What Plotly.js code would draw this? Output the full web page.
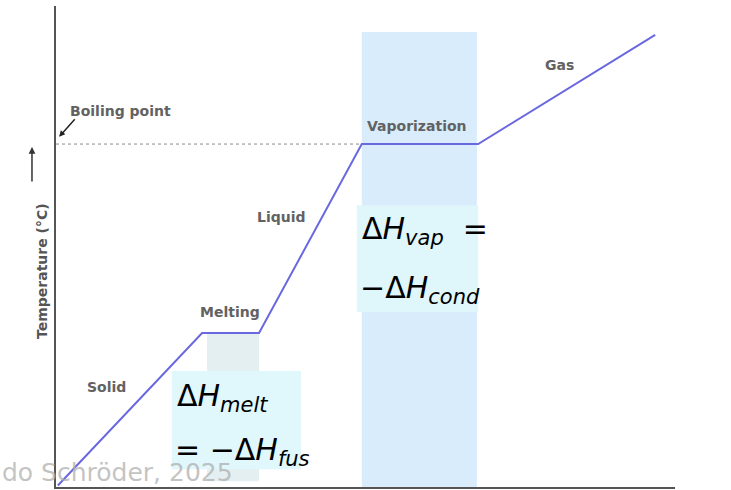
<!DOCTYPE html>
<html>
<head>
<meta charset="utf-8">
<script src="https://cdn.plot.ly/plotly-3.0.1.min.js"></script>
<style>html,body{margin:0;padding:0;background:#fff;}#chart{width:731px;height:490px;}</style>
</head>
<body>
<div id="chart"></div>
<script>
// Heating curve: heat added (arbitrary units) vs temperature (arbitrary units)
const heat = [0.3, 23.6, 32.8, 49.4, 68.2, 96.8];
const temp = [0.3, 32.0, 32.0, 71.3, 71.3, 94.0];
const boilingTemp = 71.3;

const phaseLabels = ["Solid", "Melting", "Liquid", "Vaporization", "Gas"];
const phaseLabelX = [8.2, 28.1, 36.5, 58.3, 81.3];
const phaseLabelY = [20.8, 36.4, 56.1, 75.1, 87.7];

const vapBand = [49.4, 68.0, 0, 94.6];   // x0, x1, y0, y1
const meltBand = [24.4, 32.8, 1.2, 32.0];
const meltBox = [18.7, 39.6, 3.7, 24.1];
const vapBox = [48.6, 68.2, 36.4, 58.6];

const labelFont = {family: "DejaVu Sans, sans-serif", size: 14, color: "#626262", weight: 700};
const mathFont = {family: "DejaVu Sans, sans-serif", size: 30, color: "#000"};

const traces = [
  {x: [0, heat[3]], y: [boilingTemp, boilingTemp], mode: "lines",
   line: {color: "#8a8a8a", width: 1, dash: "dot"}, hoverinfo: "skip"},
  {x: heat, y: temp, mode: "lines", line: {color: "#6a68e0", width: 2}, hoverinfo: "skip"}
];

const shapes = [
  {type: "rect", xref: "x", yref: "y", x0: vapBand[0], x1: vapBand[1], y0: vapBand[2], y1: vapBand[3],
   fillcolor: "#d9ecfb", line: {width: 0}, layer: "below"},
  {type: "rect", xref: "x", yref: "y", x0: meltBand[0], x1: meltBand[1], y0: meltBand[2], y1: meltBand[3],
   fillcolor: "#e3eff1", line: {width: 0}, layer: "below"},
  {type: "rect", xref: "x", yref: "y", x0: meltBox[0], x1: meltBox[1], y0: meltBox[2], y1: meltBox[3],
   fillcolor: "#e0f7fb", line: {width: 0}, layer: "above"},
  {type: "rect", xref: "x", yref: "y", x0: vapBox[0], x1: vapBox[1], y0: vapBox[2], y1: vapBox[3],
   fillcolor: "#dff6fb", line: {width: 0}, layer: "above"}
];

const annotations = phaseLabels.map((t, i) => ({
  x: phaseLabelX[i], y: phaseLabelY[i], xref: "x", yref: "y", text: t, showarrow: false, font: labelFont
}));

annotations.push({x: 1.9, y: 78.2, xref: "x", yref: "y", text: "Boiling point", xanchor: "left",
  showarrow: false, font: labelFont});
annotations.push({x: 0.5, y: 72.8, xref: "x", yref: "y", text: "", showarrow: true,
  ax: 17, ay: -19, arrowhead: 2, arrowsize: 0.8, arrowwidth: 1.5, arrowcolor: "#222"});

annotations.push({x: 19.2, y: 18.7, xref: "x", yref: "y", xanchor: "left", yanchor: "middle", showarrow: false,
  text: "Δ<i>H</i><sub><i>melt</i></sub>", font: mathFont});
annotations.push({x: 18.9, y: 7.3, xref: "x", yref: "y", xanchor: "left", yanchor: "middle", showarrow: false,
  text: "= −Δ<i>H</i><sub><i>fus</i></sub>", font: mathFont});
annotations.push({x: 49.1, y: 53.4, xref: "x", yref: "y", xanchor: "left", yanchor: "middle", showarrow: false,
  text: "Δ<i>H</i><sub><i>vap</i></sub>  =", font: mathFont});
annotations.push({x: 48.8, y: 41.0, xref: "x", yref: "y", xanchor: "left", yanchor: "middle", showarrow: false,
  text: "−Δ<i>H</i><sub><i>cond</i></sub>", font: mathFont});

// y-axis title and its upward arrow
annotations.push({x: -0.0388, y: 0.449, xref: "paper", yref: "paper", textangle: -90, showarrow: false,
  text: "Temperature (°C)", font: {family: "DejaVu Sans, sans-serif", size: 14, color: "#555", weight: 700}});
annotations.push({x: -0.0388, y: 0.7069, xref: "paper", yref: "paper", text: "", showarrow: true,
  ax: 0, ay: 36, arrowhead: 2, arrowsize: 0.9, arrowwidth: 1.5, arrowcolor: "#333"});

annotations.push({x: -0.0888, y: -0.002, xref: "paper", yref: "paper", xanchor: "left", yanchor: "bottom",
  showarrow: false, borderpad: 0, text: "do Schröder, 2025",
  font: {family: "DejaVu Sans, sans-serif", size: 25, color: "rgba(175,175,175,0.75)"}});

const layout = {
  width: 731, height: 490,
  margin: {l: 56, r: 56, t: 6, b: 3, pad: 0},
  paper_bgcolor: "#fff", plot_bgcolor: "#fff",
  showlegend: false,
  xaxis: {range: [0, 100], showline: true, linecolor: "#555", linewidth: 2, showgrid: false,
          zeroline: false, showticklabels: false, ticks: "", fixedrange: true},
  yaxis: {range: [0, 100], showline: true, linecolor: "#555", linewidth: 2, showgrid: false,
          zeroline: false, showticklabels: false, ticks: "", fixedrange: true},
  shapes: shapes,
  annotations: annotations
};

Plotly.newPlot("chart", traces, layout, {displayModeBar: false, staticPlot: true});
</script>
</body>
</html>
